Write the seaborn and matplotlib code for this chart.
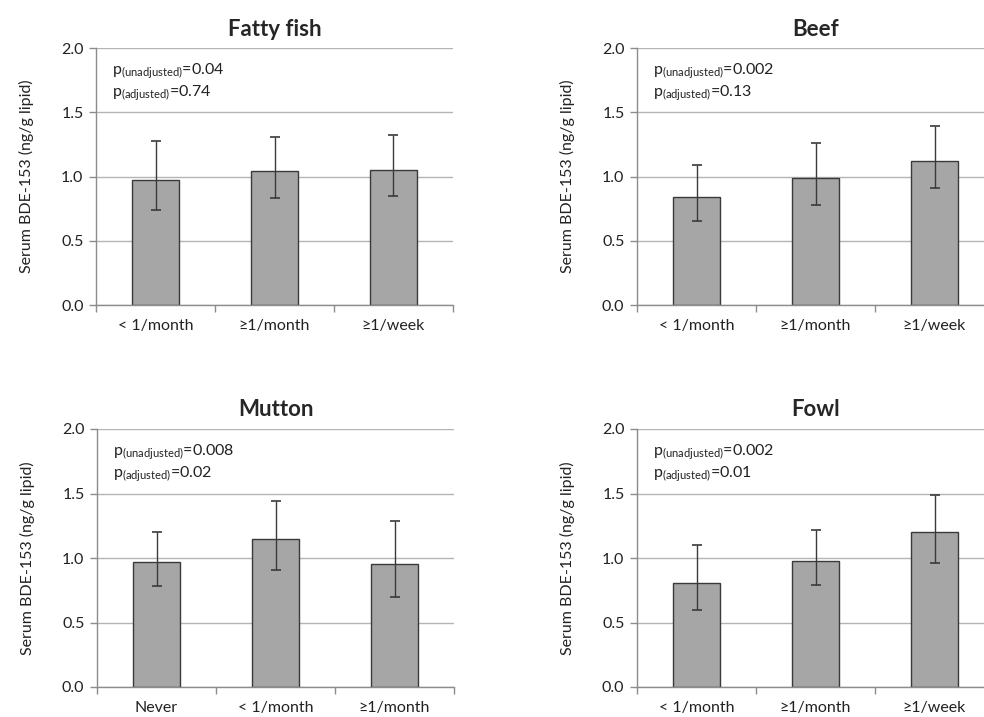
import numpy as np
import pandas as pd
import matplotlib
matplotlib.use("Agg")
import matplotlib.pyplot as plt
import seaborn as sns
from matplotlib.ticker import FixedLocator

sns.set_style("white")
plt.rcParams['font.family'] = ['Lato', 'DejaVu Sans']
plt.rcParams['mathtext.fontset'] = 'custom'
plt.rcParams['mathtext.rm'] = 'Lato'
plt.rcParams['mathtext.it'] = 'Lato'
plt.rcParams['mathtext.default'] = 'rm'

# data
titles = ["Fatty fish", "Beef", "Mutton", "Fowl"]
cats_fish = ["< 1/month", "≥1/month", "≥1/week"]
cats_beef = ["< 1/month", "≥1/month", "≥1/week"]
cats_mutton = ["Never", "< 1/month", "≥1/month"]
cats_fowl = ["< 1/month", "≥1/month", "≥1/week"]

mean_fish = [0.97, 1.04, 1.05]
lo_fish = [0.74, 0.83, 0.85]
hi_fish = [1.28, 1.31, 1.32]

mean_beef = [0.84, 0.99, 1.12]
lo_beef = [0.65, 0.78, 0.91]
hi_beef = [1.09, 1.26, 1.39]

mean_mutton = [0.97, 1.15, 0.95]
lo_mutton = [0.78, 0.91, 0.70]
hi_mutton = [1.20, 1.44, 1.29]

mean_fowl = [0.81, 0.98, 1.20]
lo_fowl = [0.60, 0.79, 0.96]
hi_fowl = [1.10, 1.22, 1.49]

p_unadj = ["0.04", "0.002", "0.008", "0.002"]
p_adj = ["0.74", "0.13", "0.02", "0.01"]

panels = [
    (cats_fish, mean_fish, lo_fish, hi_fish),
    (cats_beef, mean_beef, lo_beef, hi_beef),
    (cats_mutton, mean_mutton, lo_mutton, hi_mutton),
    (cats_fowl, mean_fowl, lo_fowl, hi_fowl),
]

W, H = 984, 717
fig = plt.figure(figsize=(W / 100, H / 100), dpi=100)

# axes boxes in pixels: left, top, width, height
boxes = [(96, 48, 357, 257), (637, 48, 357, 257),
         (97, 429, 357, 258), (637, 429, 357, 258)]

grid_c = "#b4b4b4"
spine_c = "#8c8c8c"
dark = "#3a3a3a"

for i, (cats, m, lo, hi) in enumerate(panels):
    l, t, w, h = boxes[i]
    ax = fig.add_axes([l / W, 1 - (t + h) / H, w / W, h / H])
    df = pd.DataFrame({"cat": cats, "val": m})
    sns.barplot(data=df, x="cat", y="val", ax=ax, color="#a6a6a6",
                saturation=1, width=0.4, edgecolor=dark, linewidth=1,
                errorbar=None, zorder=3)
    m = np.array(m)
    yerr = [m - np.array(lo), np.array(hi) - m]
    ax.errorbar(np.arange(len(cats)), m, yerr=yerr, fmt="none",
                ecolor=dark, elinewidth=1, capsize=3.5, capthick=1.2, zorder=4)

    ax.set_xlim(-0.5, 2.5)
    ax.set_ylim(0, 2.0)
    ax.set_yticks([0, 0.5, 1.0, 1.5, 2.0])
    ax.set_yticklabels(["0.0", "0.5", "1.0", "1.5", "2.0"])
    ax.yaxis.grid(True, color=grid_c, linewidth=1, zorder=0)
    ax.set_axisbelow(True)
    for s in ["top", "right"]:
        ax.spines[s].set_visible(False)
    for s in ["left", "bottom"]:
        ax.spines[s].set_color(spine_c)
        ax.spines[s].set_linewidth(1)
        ax.spines[s].set_zorder(5)

    ax.xaxis.set_minor_locator(FixedLocator([-0.5, 0.5, 1.5, 2.5]))
    ax.tick_params(axis="x", which="major", length=0, pad=10,
                   labelsize=11.5, labelcolor="#222222")
    ax.tick_params(axis="x", which="minor", length=5, width=1,
                   color=spine_c, direction="out", bottom=True)
    ax.tick_params(axis="y", length=5, width=1, color=spine_c,
                   direction="out", left=True, labelsize=11.5,
                   labelcolor="#222222", pad=4)

    ax.set_xlabel("")
    ax.set_ylabel("Serum BDE-153 (ng/g lipid)", fontsize=11.5, color="#222222")
    ax.yaxis.set_label_coords(-0.175, 0.5)
    ax.set_title(titles[i], fontsize=16, fontweight="bold", pad=9)

    ax.text(0.045, 0.91, r"p$_{\mathrm{(unadjusted)}}$=" + p_unadj[i],
            transform=ax.transAxes, fontsize=11.5, color="#222222", va="center")
    ax.text(0.045, 0.825, r"p$_{\mathrm{(adjusted)}}$=" + p_adj[i],
            transform=ax.transAxes, fontsize=11.5, color="#222222", va="center")

fig.savefig("out.png", dpi=100)
